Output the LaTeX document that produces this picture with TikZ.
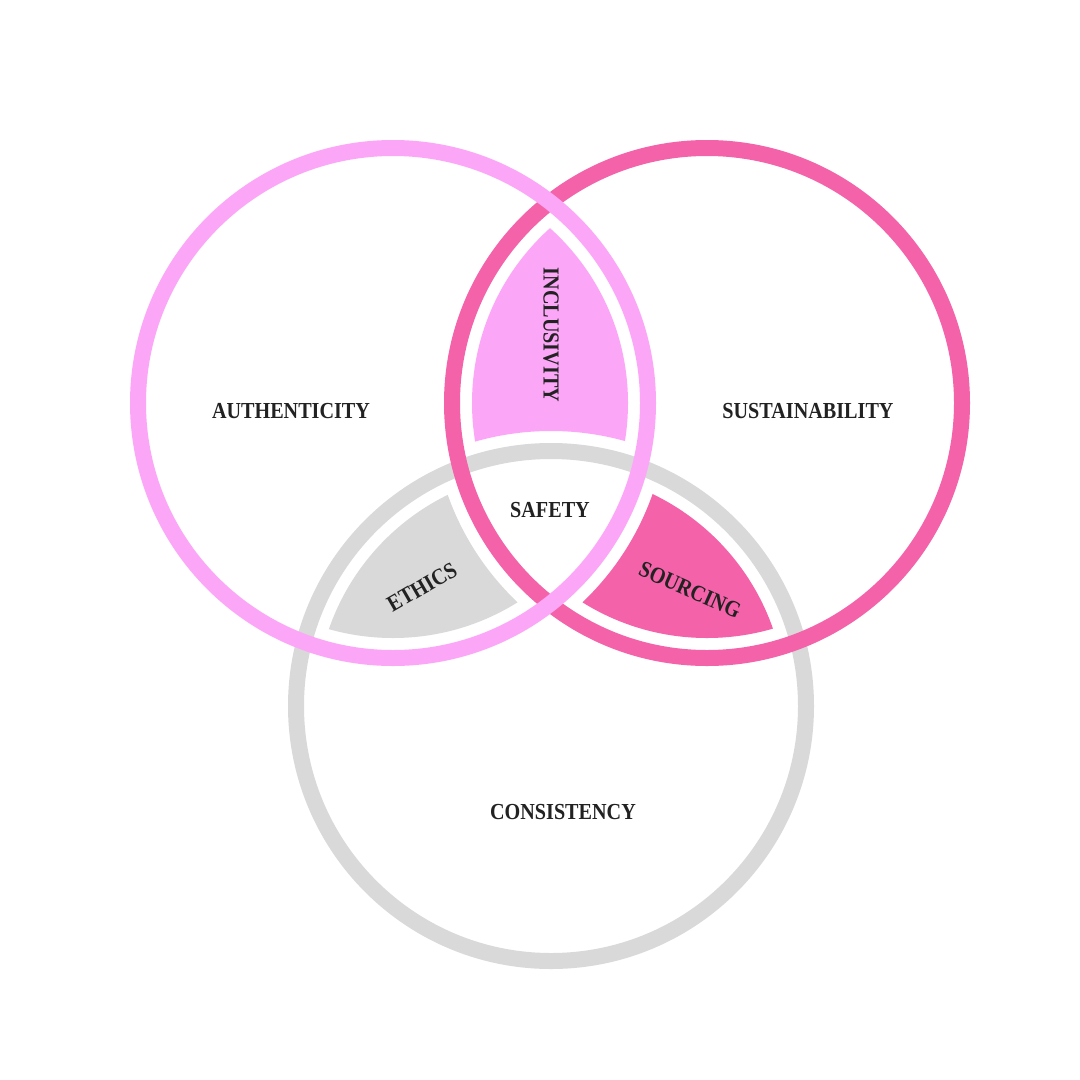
\documentclass[tikz,border=0pt]{standalone}
\usepackage{fontspec}
\setmainfont{Liberation Serif}[FakeStretch=0.88]
\definecolor{lpink}{HTML}{FCA6F8}
\definecolor{hpink}{HTML}{F462A9}
\definecolor{lgray}{HTML}{D9D9D9}
\definecolor{ink}{HTML}{222222}
\tikzset{
  ring/.style={line width=16bp},
  lbl/.style={text=ink, font=\bfseries\fontsize{23}{27}\selectfont, inner sep=0pt},
}
\begin{document}
\begin{tikzpicture}[x=1bp,y=-1bp]
\useasboundingbox[fill=white] (0,0) rectangle (1080,1080);
\coordinate (L) at (393,403);
\coordinate (R) at (707,403);
\coordinate (B) at (551,706);
% lens fills
\begin{scope}[even odd rule]
  \clip (-20,-20) rectangle (1100,1100) (B) circle[radius=275];
  \clip (L) circle[radius=235];
  \fill[lpink] (R) circle[radius=235];
\end{scope}
\begin{scope}[even odd rule]
  \clip (-20,-20) rectangle (1100,1100) (R) circle[radius=275];
  \clip (L) circle[radius=235];
  \fill[lgray] (B) circle[radius=235];
\end{scope}
\begin{scope}[even odd rule]
  \clip (-20,-20) rectangle (1100,1100) (L) circle[radius=275];
  \clip (R) circle[radius=235];
  \fill[hpink] (B) circle[radius=235];
\end{scope}
% rings
\draw[ring, lgray] (B) circle[radius=255];
\draw[ring, hpink] (R) circle[radius=255];
\draw[ring, lpink] (L) circle[radius=255];
% labels
\node[lbl] (auth) at (291,411) {AUTHENTICITY};
\node[lbl] (sust) at (808,411) {SUSTAINABILITY};
\node[lbl] (cons) at (563,812) {CONSISTENCY};
\node[lbl] (safe) at (550,510) {SAFETY};
\node[lbl, rotate=-90] (incl) at (551,335) {INCLUSIVITY};
\node[lbl, rotate=30] (eth) at (422,587) {ETHICS};
\node[lbl, rotate=-24] (src) at (690,590) {SOURCING};
\end{tikzpicture}
\end{document}
